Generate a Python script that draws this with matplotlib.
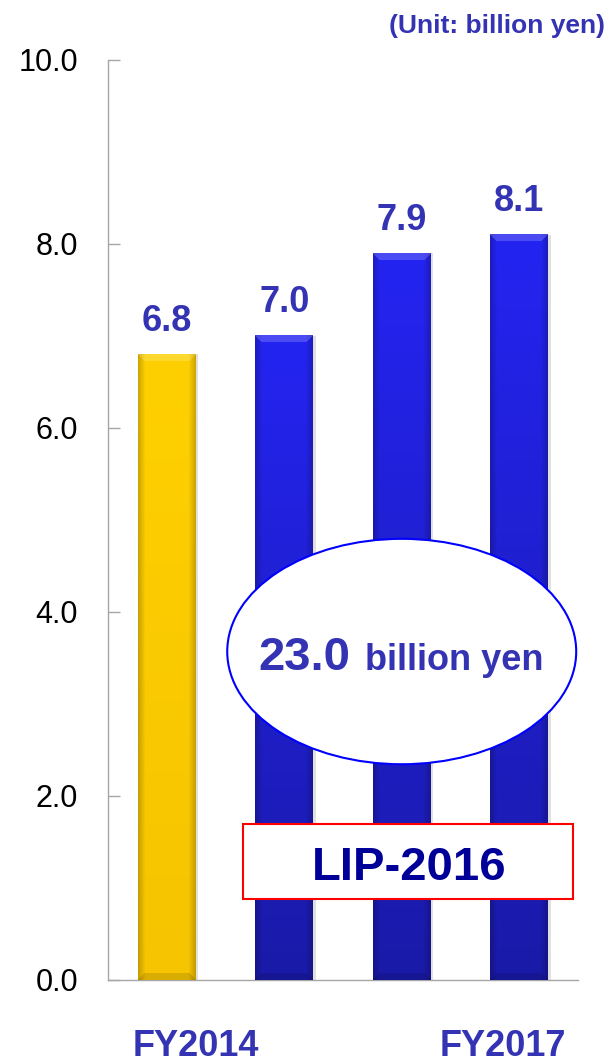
import matplotlib.pyplot as plt
import numpy as np
from matplotlib.patches import Ellipse, Rectangle
from matplotlib.colors import to_rgb
import matplotlib.transforms as mtransforms

plt.rcParams['font.family'] = ['Liberation Sans', 'DejaVu Sans']

# data
years = ['FY2014', 'FY2015', 'FY2016', 'FY2017']
values = [6.8, 7.0, 7.9, 8.1]
value_labels = ['6.8', '7.0', '7.9', '8.1']
shown_years = ['FY2014', '', '', 'FY2017']
yticks = [0, 2, 4, 6, 8, 10]
total_value = '23.0'
total_unit = 'billion yen'
plan_name = 'LIP-2016'
unit_text = '(Unit: billion yen)'

# colours
gold = ('#ffd000', '#f6c400')
blue = ('#2424f2', '#1a1aa8')
bar_colors = [gold, blue, blue, blue]
label_col = '#3333b3'


def bar_image(top, bot, h_px, w_px=58, bevel=7):
    top = np.array(to_rgb(top))
    bot = np.array(to_rgb(bot))
    v = np.linspace(0, 1, h_px)[:, None, None]
    img = top * (1 - v) + bot * v
    img = np.repeat(img, w_px, axis=1)
    u = np.arange(w_px)
    dist = np.minimum(u, w_px - 1 - u)
    side = np.clip(dist / bevel, 0, 1)
    img = img * (0.8 + 0.2 * side)[None, :, None]
    for r in range(bevel):
        img[r, r:w_px - r] = img[r, r:w_px - r] * 0.82 + 0.18
        rr = h_px - 1 - r
        img[rr, r:w_px - r] = img[rr, r:w_px - r] * 0.88
    return np.clip(img, 0, 1)


fig = plt.figure(figsize=(6.1, 10.63), dpi=100)
ax = fig.add_axes([0.177, 0.0781, 0.7705, 0.8655])

x = np.arange(len(values))
width = 0.49
bars = ax.bar(x, values, width=width, color=[c[1] for c in bar_colors],
              edgecolor='none', zorder=2)

# shaded look on each bar
for b, c in zip(bars, bar_colors):
    x0 = b.get_x()
    h = b.get_height()
    img = bar_image(c[0], c[1], int(h * 92))
    ax.imshow(img, extent=(x0, x0 + width, 0, h), aspect='auto',
              interpolation='bilinear', zorder=3)
    # soft shadow on the right
    ax.add_patch(Rectangle((x0 + width, 0), 0.025, h, facecolor='#000000',
                           alpha=0.12, edgecolor='none', zorder=1))

for xi, v, lab in zip(x, values, value_labels):
    ax.annotate(lab, (xi, v), xytext=(0, 17), textcoords='offset points',
                ha='center', va='baseline', fontsize=26, fontweight='bold',
                color=label_col)

ax.set_xlim(-0.5, 3.5)
ax.set_ylim(0, 10)

ax.set_yticks(yticks, [f'{t:.1f}' for t in yticks])
ax.tick_params(axis='y', direction='in', length=8.5, width=1,
               color='#a6a6a6', pad=21.6, labelsize=22, labelcolor='black')
ax.set_xticks([])
for s in ['top', 'right']:
    ax.spines[s].set_visible(False)
for s in ['left', 'bottom']:
    ax.spines[s].set_color('#a6a6a6')
    ax.spines[s].set_linewidth(1)

# category labels under the axis
trans = mtransforms.blended_transform_factory(ax.transData, ax.transAxes)
label_pos = [0.245, None, None, 2.857]
for pos, lab in zip(label_pos, shown_years):
    if lab:
        ax.text(pos, -0.083, lab, transform=trans, ha='center', va='baseline',
                fontsize=26, fontweight='bold', color=label_col)

# total ellipse
ax.add_patch(Ellipse((2.0, 3.57), 2.97, 2.45, facecolor='white',
                     edgecolor='#0000ff', linewidth=1.5, zorder=5))
ax.text(0.777, 3.37, total_value, ha='left', va='baseline', fontsize=34,
        fontweight='bold', color=label_col, zorder=6)
ax.text(1.687, 3.37, total_unit, ha='left', va='baseline', fontsize=26,
        fontweight='bold', color=label_col, zorder=6)

# plan box
ax.add_patch(Rectangle((0.649, 0.88), 2.808, 0.816, facecolor='white',
                       edgecolor='#ff0000', linewidth=1.5, zorder=5))
ax.text(2.06, 1.087, plan_name, ha='center', va='baseline', fontsize=34,
        fontweight='bold', color='#000099', zorder=6)

fig.text(0.992, 0.969, unit_text, ha='right', va='baseline', fontsize=19,
         fontweight='bold', color=label_col)

fig.savefig('out.png', dpi=100)
